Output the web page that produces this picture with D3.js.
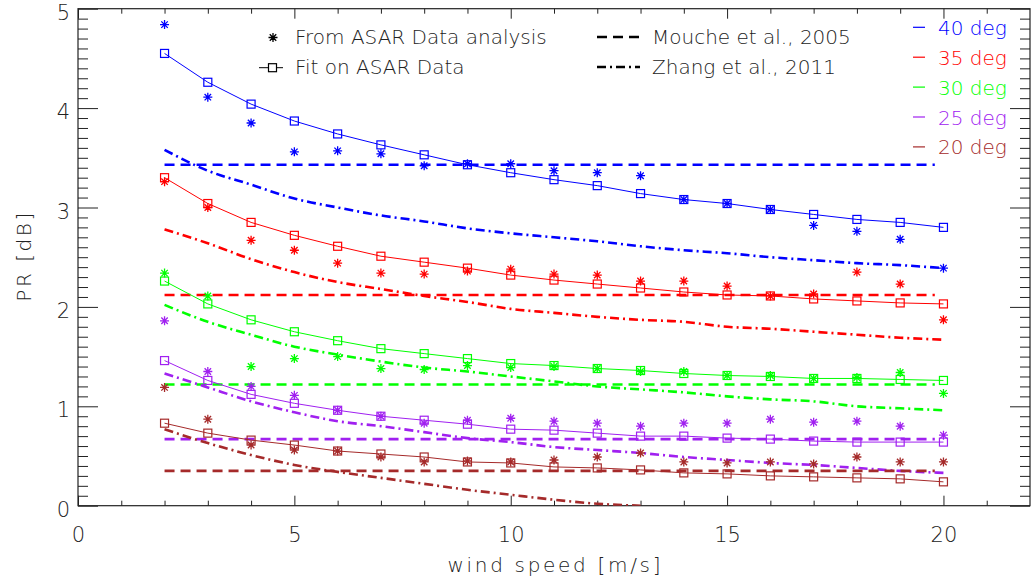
<!DOCTYPE html>
<html>
<head>
<meta charset="utf-8">
<script src="https://cdn.jsdelivr.net/npm/d3@7"></script>
<style>
  body { margin: 0; background: #fff; }
  svg { display: block; }
  text { font-family: "DejaVu Sans", sans-serif; font-weight: 200; fill: #222; }
</style>
</head>
<body>
<svg id="chart" width="1036" height="580"></svg>
<script>
// wind speed [m/s]
var speeds = [2, 3, 4, 5, 6, 7, 8, 9, 10, 11, 12, 13, 14, 15, 16, 17, 18, 19, 20];

// incidence angles, top to bottom
var angles = ['40 deg', '35 deg', '30 deg', '25 deg', '20 deg'];
var colors = ['#0000ff', '#ff0000', '#00ff00', '#a020f0', '#a52a2a'];

// From ASAR Data analysis (stars)
var asar40 = [4.84, 4.11, 3.85, 3.56, 3.57, 3.54, 3.42, 3.44, 3.44, 3.37, 3.35, 3.32, 3.08, 3.04, 2.98, 2.82, 2.76, 2.68, 2.39];
var asar35 = [3.26, 3.00, 2.67, 2.57, 2.44, 2.34, 2.33, 2.36, 2.38, 2.33, 2.32, 2.26, 2.26, 2.21, 2.11, 2.13, 2.35, 2.23, 1.87];
var asar30 = [2.34, 2.11, 1.40, 1.48, 1.50, 1.38, 1.37, 1.41, 1.39, 1.40, 1.38, 1.35, 1.35, 1.31, 1.31, 1.28, 1.29, 1.34, 1.13];
var asar25 = [1.86, 1.35, 1.20, 1.11, 0.96, 0.90, 0.83, 0.86, 0.88, 0.85, 0.83, 0.80, 0.83, 0.83, 0.87, 0.84, 0.85, 0.80, 0.71];
var asar20 = [1.19, 0.87, 0.61, 0.56, 0.55, 0.49, 0.44, 0.45, 0.44, 0.46, 0.49, 0.53, 0.44, 0.43, 0.44, 0.42, 0.49, 0.44, 0.44];

// Fit on ASAR Data (squares)
var fit40 = [4.55, 4.26, 4.04, 3.87, 3.74, 3.63, 3.53, 3.43, 3.35, 3.28, 3.22, 3.14, 3.08, 3.04, 2.98, 2.93, 2.88, 2.85, 2.80];
var fit35 = [3.30, 3.04, 2.85, 2.72, 2.61, 2.51, 2.45, 2.39, 2.32, 2.27, 2.23, 2.19, 2.15, 2.12, 2.11, 2.08, 2.06, 2.04, 2.03];
var fit30 = [2.26, 2.03, 1.87, 1.75, 1.66, 1.58, 1.53, 1.48, 1.43, 1.41, 1.38, 1.36, 1.33, 1.31, 1.30, 1.28, 1.28, 1.27, 1.26];
var fit25 = [1.46, 1.26, 1.12, 1.03, 0.96, 0.90, 0.86, 0.82, 0.77, 0.76, 0.73, 0.70, 0.70, 0.68, 0.67, 0.65, 0.64, 0.64, 0.64];
var fit20 = [0.83, 0.73, 0.66, 0.61, 0.55, 0.52, 0.49, 0.44, 0.43, 0.39, 0.38, 0.36, 0.33, 0.32, 0.30, 0.29, 0.28, 0.27, 0.24];

// Mouche et al., 2005 (constant per angle)
var mouche = [3.43, 2.12, 1.22, 0.67, 0.35];

// Zhang et al., 2011
var zhang40 = [3.58, 3.37, 3.23, 3.09, 3.00, 2.92, 2.86, 2.79, 2.74, 2.70, 2.66, 2.61, 2.57, 2.54, 2.50, 2.47, 2.44, 2.42, 2.39];
var zhang35 = [2.78, 2.64, 2.48, 2.35, 2.25, 2.18, 2.11, 2.05, 1.98, 1.94, 1.90, 1.87, 1.85, 1.80, 1.78, 1.75, 1.72, 1.69, 1.67];
var zhang30 = [2.02, 1.85, 1.72, 1.60, 1.52, 1.45, 1.39, 1.35, 1.30, 1.25, 1.20, 1.17, 1.14, 1.10, 1.07, 1.05, 1.00, 0.98, 0.96];
var zhang25 = [1.33, 1.19, 1.05, 0.94, 0.85, 0.80, 0.74, 0.68, 0.64, 0.59, 0.56, 0.53, 0.49, 0.46, 0.43, 0.41, 0.38, 0.35, 0.33];
var zhang20 = [0.77, 0.63, 0.51, 0.41, 0.34, 0.28, 0.22, 0.16, 0.11, 0.06, 0.02, 0.00];

var asar = [asar40, asar35, asar30, asar25, asar20];
var fits = [fit40, fit35, fit30, fit25, fit20];
var zhang = [zhang40, zhang35, zhang30, zhang25, zhang20];

var xMajor = [0, 5, 10, 15, 20];
var yMajor = [0, 1, 2, 3, 4, 5];

var svg = d3.select('#chart');
var x = d3.scaleLinear().domain([0, 22]).range([78, 1030]);
var y = d3.scaleLinear().domain([0, 5]).range([505.7, 8.7]);

var xMinor = d3.range(1, 22).filter(function (d) { return d % 5 !== 0; });
var yMinor = d3.range(1, 50).map(function (d) { return d / 10; })
  .filter(function (d, i) { return (i + 1) % 10 !== 0; });

svg.append('defs').append('clipPath').attr('id', 'plot-clip')
  .append('rect')
  .attr('x', x(0)).attr('y', y(5))
  .attr('width', x(22) - x(0)).attr('height', y(0) - y(5));

function styleAxis(g) {
  g.select('.domain').remove();
  g.selectAll('line').attr('stroke', '#222');
  g.selectAll('text')
    .attr('font-family', '"DejaVu Sans", sans-serif')
    .attr('font-size', 21)
    .attr('fill', '#222');
}

// bottom
svg.append('g').attr('transform', 'translate(0,' + y(0) + ')')
  .call(d3.axisBottom(x).tickValues(xMajor).tickSize(-10).tickPadding(21).tickFormat(d3.format('d')))
  .call(styleAxis);
svg.append('g').attr('transform', 'translate(0,' + y(0) + ')')
  .call(d3.axisBottom(x).tickValues(xMinor).tickSize(-5).tickFormat(''))
  .call(styleAxis);
// top
svg.append('g').attr('transform', 'translate(0,' + y(5) + ')')
  .call(d3.axisTop(x).tickValues(xMajor).tickSize(-10).tickFormat(''))
  .call(styleAxis);
svg.append('g').attr('transform', 'translate(0,' + y(5) + ')')
  .call(d3.axisTop(x).tickValues(xMinor).tickSize(-5).tickFormat(''))
  .call(styleAxis);
// left
svg.append('g').attr('transform', 'translate(' + x(0) + ',0)')
  .call(d3.axisLeft(y).tickValues(yMajor).tickSize(-20).tickPadding(8).tickFormat(d3.format('d')))
  .call(styleAxis)
  .selectAll('text').attr('dy', '0.5em');
svg.append('g').attr('transform', 'translate(' + x(0) + ',0)')
  .call(d3.axisLeft(y).tickValues(yMinor).tickSize(-10).tickFormat(''))
  .call(styleAxis);
// right
svg.append('g').attr('transform', 'translate(' + x(22) + ',0)')
  .call(d3.axisRight(y).tickValues(yMajor).tickSize(-20).tickFormat(''))
  .call(styleAxis);
svg.append('g').attr('transform', 'translate(' + x(22) + ',0)')
  .call(d3.axisRight(y).tickValues(yMinor).tickSize(-10).tickFormat(''))
  .call(styleAxis);

svg.append('rect')
  .attr('x', x(0)).attr('y', y(5))
  .attr('width', x(22) - x(0)).attr('height', y(0) - y(5))
  .attr('fill', 'none').attr('stroke', '#222').attr('stroke-width', 1.2);

// axis titles
svg.append('text')
  .attr('x', (x(0) + x(22)) / 2).attr('y', 571.7)
  .attr('text-anchor', 'middle').attr('font-size', 20)
  .attr('textLength', 213).attr('lengthAdjust', 'spacing')
  .text('wind speed [m/s]');
svg.append('text')
  .attr('transform', 'translate(31,' + (y(0) + y(5)) / 2 + ') rotate(-90)')
  .attr('text-anchor', 'middle').attr('font-size', 20)
  .attr('textLength', 89).attr('lengthAdjust', 'spacing')
  .text('PR [dB]');

function starPath(r) {
  var k = r * 0.72;
  return 'M' + (-r) + ',0H' + r + 'M0,' + (-r) + 'V' + r +
    'M' + (-k) + ',' + (-k) + 'L' + k + ',' + k +
    'M' + (-k) + ',' + k + 'L' + k + ',' + (-k);
}

var plot = svg.append('g').attr('clip-path', 'url(#plot-clip)');

var line = d3.line()
  .x(function (d) { return x(d[0]); })
  .y(function (d) { return y(d[1]); });

function pairs(values) {
  return values.map(function (v, i) { return [speeds[i], v]; });
}

angles.forEach(function (name, a) {
  var c = colors[a];
  var g = plot.append('g');

  // Mouche et al. dashed
  g.append('path')
    .datum([[speeds[0], mouche[a]], [speeds[speeds.length - 1] - 0.2, mouche[a]]])
    .attr('d', line)
    .attr('fill', 'none').attr('stroke', c)
    .attr('stroke-width', 2.6).attr('stroke-dasharray', '10,6');

  // Zhang et al. dash-dot
  g.append('path')
    .datum(pairs(zhang[a]))
    .attr('d', line.curve(d3.curveMonotoneX))
    .attr('fill', 'none').attr('stroke', c)
    .attr('stroke-width', 2.6).attr('stroke-dasharray', '9,4,2,4');
  line.curve(d3.curveLinear);

  // fit line + squares
  g.append('path')
    .datum(pairs(fits[a]))
    .attr('d', line)
    .attr('fill', 'none').attr('stroke', c).attr('stroke-width', 1);
  g.selectAll('.sq')
    .data(pairs(fits[a]))
    .enter().append('rect')
    .attr('x', function (d) { return x(d[0]) - 4; })
    .attr('y', function (d) { return y(d[1]) - 4; })
    .attr('width', 8).attr('height', 8)
    .attr('fill', 'none').attr('stroke', c).attr('stroke-width', 1.2);

  // ASAR data stars
  g.selectAll('.star')
    .data(pairs(asar[a]))
    .enter().append('path')
    .attr('transform', function (d) { return 'translate(' + x(d[0]) + ',' + y(d[1]) + ')'; })
    .attr('d', starPath(4.5))
    .attr('fill', 'none').attr('stroke', c).attr('stroke-width', 1.3);
});

// legend: symbols
var legend = svg.append('g');
legend.append('path')
  .attr('transform', 'translate(273,37.5)')
  .attr('d', starPath(4.5))
  .attr('fill', 'none').attr('stroke', '#000').attr('stroke-width', 1.3);
legend.append('line')
  .attr('x1', 259).attr('x2', 283).attr('y1', 67.7).attr('y2', 67.7)
  .attr('stroke', '#000').attr('stroke-width', 1);
legend.append('rect')
  .attr('x', 268.5).attr('y', 63.7).attr('width', 8).attr('height', 8)
  .attr('fill', '#fff').attr('stroke', '#000').attr('stroke-width', 1.2);
legend.append('line')
  .attr('x1', 597).attr('x2', 640).attr('y1', 37).attr('y2', 37)
  .attr('stroke', '#000').attr('stroke-width', 2.6).attr('stroke-dasharray', '10,6');
legend.append('line')
  .attr('x1', 597).attr('x2', 640).attr('y1', 67).attr('y2', 67)
  .attr('stroke', '#000').attr('stroke-width', 2.6).attr('stroke-dasharray', '9,4,2,4');

var legendText = [
  ['From ASAR Data analysis', 295, 44],
  ['Fit on ASAR Data', 295, 73.5],
  ['Mouche et al., 2005', 652, 44],
  ['Zhang et al., 2011', 652, 73.5]
];
legend.selectAll('.lt')
  .data(legendText)
  .enter().append('text')
  .attr('x', function (d) { return d[1]; })
  .attr('y', function (d) { return d[2]; })
  .attr('font-size', 20)
  .text(function (d) { return d[0]; });

// angle legend
var angleLegend = svg.append('g');
angles.forEach(function (name, a) {
  var yy = 27.3 + a * 29.9;
  angleLegend.append('line')
    .attr('x1', 913).attr('x2', 925).attr('y1', yy).attr('y2', yy)
    .attr('stroke', colors[a]).attr('stroke-width', 1.2);
  angleLegend.append('text')
    .attr('x', 938).attr('y', yy + 7.5)
    .attr('font-size', 20)
    .style('fill', colors[a])
    .text(name);
});
</script>
</body>
</html>
